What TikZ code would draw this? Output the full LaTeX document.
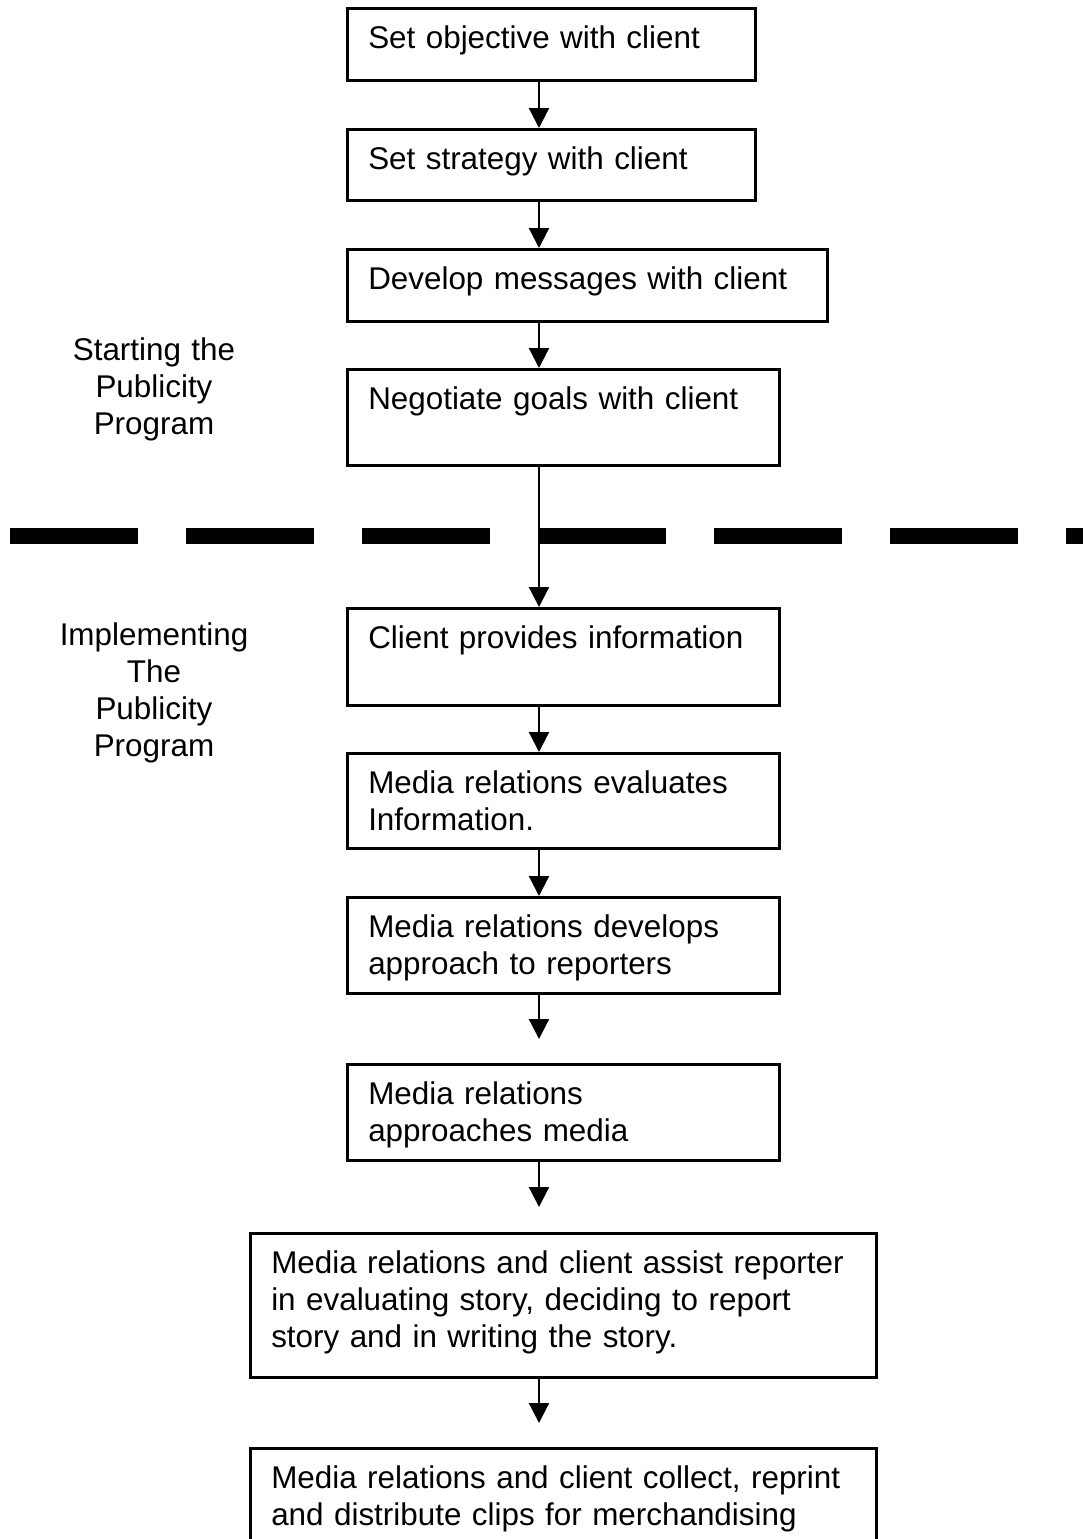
\documentclass[tikz,border=0pt]{standalone}
\usepackage{fontspec}
\setmainfont{Liberation Sans}
\usetikzlibrary{arrows.meta}
\begin{document}
\begin{tikzpicture}[x=0.5pt,y=-0.5pt,
  every node/.style={font=\fontsize{15.7pt}{18.5pt}\selectfont},
  box/.style={draw, line width=1.25pt, rectangle, anchor=north west,
    inner xsep=10.5pt, inner ysep=0pt, align=left, text height=20pt},
  arr/.style={line width=1.1pt, -{Triangle[width=10pt,length=10pt]}},
  side/.style={align=center, text width=110pt, anchor=base, inner sep=0pt},
  divider/.style={line width=8pt, dash pattern=on 64pt off 24pt}
]
\useasboundingbox (0,0) rectangle (1083,1539);
\fill[white] (0,0) rectangle (1083,1539);

\coordinate (ax) at (539,0);
\coordinate (dl) at (10,536);
\coordinate (dr) at (1083,536);
\draw[divider] (dl) -- (dr);

\node[box, text width=183pt, text depth=16pt] (b1) at (346,7) {Set objective with client};
\node[box, text width=183pt, text depth=15.5pt] (b2) at (346,128) {Set strategy with client};
\node[box, text width=219pt, text depth=16pt] (b3) at (346,248) {Develop messages with client};
\node[box, text width=195pt, text depth=28pt] (b4) at (346,368) {Negotiate goals with client};
\node[box, text width=195pt, text depth=28.5pt] (b5) at (346,607) {Client provides information};
\node[box, text width=195pt, text depth=27.5pt] (b6) at (346,752) {Media relations evaluates\\Information.};
\node[box, text width=195pt, text depth=28pt] (b7) at (346,896) {Media relations develops\\approach to reporters};
\node[box, text width=195pt, text depth=28pt] (b8) at (346,1063) {Media relations\\approaches media};
\node[box, text width=292pt, text depth=52pt] (b9) at (249,1232) {Media relations and client assist reporter\\in evaluating story, deciding to report\\story and in writing the story.};
\node[box, text width=292pt, text depth=60pt] (b10) at (249,1447) {Media relations and client collect, reprint\\and distribute clips for merchandising};

\node[side] (s1) at (154,360) {Starting the\\Publicity\\Program};
\node[side] (s2) at (154,645) {Implementing\\The\\Publicity\\Program};

\coordinate (t7) at (539,1039);
\coordinate (t8) at (539,1207);
\coordinate (t9) at (539,1423);

\draw[arr] (b1.south -| ax) -- (b2.north -| ax);
\draw[arr] (b2.south -| ax) -- (b3.north -| ax);
\draw[arr] (b3.south -| ax) -- (b4.north -| ax);
\draw[arr] (b4.south -| ax) -- (b5.north -| ax);
\draw[arr] (b5.south -| ax) -- (b6.north -| ax);
\draw[arr] (b6.south -| ax) -- (b7.north -| ax);
\draw[arr] (b7.south -| ax) -- (t7);
\draw[arr] (b8.south -| ax) -- (t8);
\draw[arr] (b9.south -| ax) -- (t9);
\end{tikzpicture}
\end{document}
